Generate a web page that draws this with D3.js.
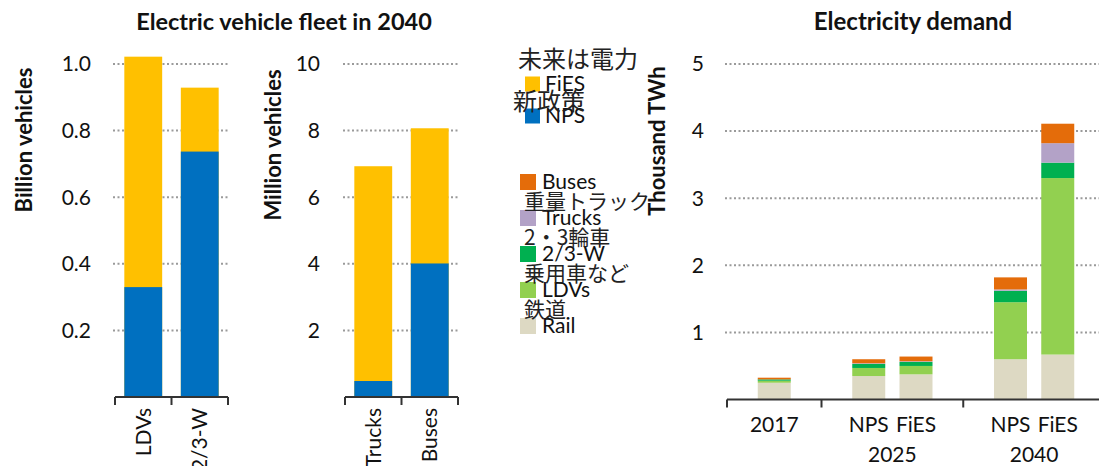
<!DOCTYPE html>
<html><head><meta charset="utf-8">
<script src="https://cdn.jsdelivr.net/npm/d3@7"></script>
<style>
body{margin:0;background:#fff;}
svg{display:block;}
text{font-family:Lato,"Noto Sans",sans-serif;fill:#111;}
.jp{font-family:"Noto Sans CJK JP",sans-serif;fill:#222;}
</style></head>
<body><svg id="c" width="1099" height="466"></svg>
<script>
// ---- data ----
const fleetCatsA = ["LDVs", "2/3-W"];
const fleetNpsA = [0.33, 0.737];
const fleetFiesA = [1.022, 0.929];
const fleetTicksA = [0.2, 0.4, 0.6, 0.8, 1.0];

const fleetCatsB = ["Trucks", "Buses"];
const fleetNpsB = [0.48, 4.01];
const fleetFiesB = [6.93, 8.07];
const fleetTicksB = [2, 4, 6, 8, 10];

const demandCats = ["2017", "NPS 2025", "FiES 2025", "NPS 2040", "FiES 2040"];
const demandLabels = ["2017", "NPS", "FiES", "NPS", "FiES"];
const demandGroups = ["2025", "2040"];
const demandRail = [0.25, 0.35, 0.375, 0.60, 0.67];
const demandLDVs = [0.03, 0.12, 0.125, 0.85, 2.63];
const demand23W = [0.02, 0.06, 0.06, 0.17, 0.23];
const demandTrucks = [0.0, 0.01, 0.01, 0.02, 0.29];
const demandBuses = [0.025, 0.06, 0.07, 0.18, 0.29];
const demandTicks = [1, 2, 3, 4, 5];

const scenNames = ["FiES", "NPS"];
const scenJp = ["未来は電力", "新政策"];
const modeNames = ["Buses", "Trucks", "2/3-W", "LDVs", "Rail"];
const modeJp = ["", "重量トラック", "2・3輪車", "乗用車など", "鉄道"];

// ---- style ----
const C = {fies:"#FFC000", nps:"#0070C0", Buses:"#E46C0A", Trucks:"#B3A2C7", "2/3-W":"#00B050", LDVs:"#92D050", Rail:"#DDD9C3"};
const svg = d3.select("#c");
const FS = 21;

function grid(g, y, ticks, x0, x1, labelX){
  g.selectAll(null).data(ticks).join("line")
    .attr("x1", x0).attr("x2", x1).attr("y1", d=>y(d)).attr("y2", d=>y(d))
    .attr("stroke", "#9a9a9a").attr("stroke-width", 2).attr("stroke-dasharray", "2,2.5");
  g.selectAll(null).data(ticks).join("text")
    .attr("x", labelX).attr("y", d=>y(d)).attr("dy", "0.35em").attr("text-anchor", "end")
    .style("font-size", FS+"px").text(d=> d3.format(ticks[ticks.length-1] < 2 ? ".1f" : "d")(d));
}
function baseAxis(g, x0, x1, y0, ticksX){
  g.append("line").attr("x1", x0).attr("x2", x1).attr("y1", y0).attr("y2", y0)
   .attr("stroke", "#333").attr("stroke-width", 2);
  g.selectAll(null).data(ticksX).join("line")
   .attr("x1", d=>d).attr("x2", d=>d).attr("y1", y0).attr("y2", y0+8)
   .attr("stroke", "#333").attr("stroke-width", 2);
}
function yTitle(x, y, t){
  svg.append("text").attr("transform", `translate(${x},${y}) rotate(-90)`)
    .attr("text-anchor", "middle").attr("dy", "0.35em")
    .style("font-size", "22px").style("font-weight", "bold").text(t);
}

// ---- fleet panels ----
function fleetPanel(cats, nps, fies, ticks, ymax, xr, labelX){
  const g = svg.append("g");
  const y = d3.scaleLinear().domain([0, ymax]).range([397, 64]);
  const x = d3.scaleBand().domain(cats).range(xr).paddingInner(0.33).paddingOuter(0.165);
  grid(g, y, ticks, xr[0]-2, xr[1], labelX);
  g.selectAll(null).data(cats).join("rect")
    .attr("x", d=>x(d)).attr("width", x.bandwidth())
    .attr("y", (d,i)=>y(fies[i])).attr("height", (d,i)=>y(0)-y(fies[i])).attr("fill", C.fies);
  g.selectAll(null).data(cats).join("rect")
    .attr("x", d=>x(d)).attr("width", x.bandwidth())
    .attr("y", (d,i)=>y(nps[i])).attr("height", (d,i)=>y(0)-y(nps[i])).attr("fill", C.nps);
  baseAxis(g, xr[0], xr[1], y(0), [xr[0], (xr[0]+xr[1])/2, xr[1]]);
  g.selectAll(null).data(cats).join("text")
    .attr("transform", d=>`translate(${x(d)+x.bandwidth()/2},${y(0)+11}) rotate(-90)`)
    .attr("text-anchor", "end").attr("dy", "0.35em")
    .style("font-size", FS+"px").text(d=>d);
}
fleetPanel(fleetCatsA, fleetNpsA, fleetFiesA, fleetTicksA, 1.0, [115, 228], 91);
fleetPanel(fleetCatsB, fleetNpsB, fleetFiesB, fleetTicksB, 10, [345, 458], 320);
yTitle(24, 140, "Billion vehicles");
yTitle(273, 145, "Million vehicles");
svg.append("text").attr("x", 284).attr("y", 22).attr("dy", "0.35em").attr("text-anchor", "middle")
  .style("font-size", "23.5px").style("font-weight", "bold").text("Electric vehicle fleet in 2040");

// ---- demand panel ----
(function(){
  const g = svg.append("g");
  const y = d3.scaleLinear().domain([0, 5]).range([399.5, 64]);
  const x = d3.scalePoint().domain(["s", demandCats[0], "b1", demandCats[1], demandCats[2], "b2", demandCats[3], demandCats[4], "e"]).range([727, 1105]);
  grid(g, y, demandTicks, 725, 1099, 704);
  const series = {Rail: demandRail, LDVs: demandLDVs, "2/3-W": demand23W, Trucks: demandTrucks, Buses: demandBuses};
  const keys = ["Rail", "LDVs", "2/3-W", "Trucks", "Buses"];
  const rows = demandCats.map((c,i)=>{ const o={cat:c}; keys.forEach(k=>o[k]=series[k][i]); return o; });
  const stacked = d3.stack().keys(keys)(rows);
  const bw = 33;
  g.selectAll("g.s").data(stacked).join("g").attr("fill", d=>C[d.key])
    .selectAll("rect").data(d=>d).join("rect")
    .attr("x", d=>x(d.data.cat)-bw/2).attr("width", bw)
    .attr("y", d=>y(d[1])).attr("height", d=>y(d[0])-y(d[1]));
  baseAxis(g, 727, 1099, y(0), [x("s"), x("b1"), x("b2"), x("e")]);
  g.selectAll(null).data(demandCats).join("text")
    .attr("x", d=>x(d)).attr("y", 425).attr("dy", "0.35em").attr("text-anchor", "middle")
    .style("font-size", FS+"px").text((d,i)=>demandLabels[i]);
  g.selectAll(null).data(demandGroups).join("text")
    .attr("x", (d,i)=>(x(demandCats[1+2*i])+x(demandCats[2+2*i]))/2).attr("y", 455).attr("dy", "0.35em")
    .attr("text-anchor", "middle").style("font-size", FS+"px").text(d=>d);
  yTitle(657, 141, "Thousand TWh");
  svg.append("text").attr("x", 913).attr("y", 22).attr("dy", "0.35em").attr("text-anchor", "middle")
    .style("font-size", "24px").style("font-weight", "bold").text("Electricity demand");
})();

// ---- legends ----
(function(){
  const g = svg.append("g");
  const scenColors = [C.fies, C.nps];
  const sy = d3.scalePoint().domain(scenNames).range([84, 116]);
  g.selectAll(null).data(scenNames).join("rect")
    .attr("x", 525).attr("y", d=>sy(d)-7.5).attr("width", 15).attr("height", 15)
    .attr("fill", (d,i)=>scenColors[i]);
  g.selectAll(null).data(scenNames).join("text")
    .attr("x", 545).attr("y", d=>sy(d)).attr("dy", "0.35em").style("font-size", FS+"px").text(d=>d);
  g.selectAll(null).data(scenJp).join("text").attr("class", "jp")
    .attr("x", (d,i)=> i===0 ? 518 : 513).attr("y", (d,i)=> i===0 ? 60 : 102).attr("dy", "0.35em")
    .style("font-size", "24px").text(d=>d);

  const my = d3.scalePoint().domain(modeNames).range([182, 326]);
  g.selectAll(null).data(modeNames).join("rect")
    .attr("x", 520).attr("y", d=>my(d)-8).attr("width", 16).attr("height", 16)
    .attr("fill", d=>C[d]);
  g.selectAll(null).data(modeNames).join("text")
    .attr("x", 542).attr("y", d=>my(d)).attr("dy", "0.35em").style("font-size", FS+"px").text(d=>d);
  g.selectAll(null).data(modeNames.filter((d,i)=>modeJp[i])).join("text").attr("class", "jp")
    .attr("x", 524).attr("y", d=>my(d)-16).attr("dy", "0.35em")
    .style("font-size", "21px").text(d=>modeJp[modeNames.indexOf(d)]);
})();
</script></body></html>
